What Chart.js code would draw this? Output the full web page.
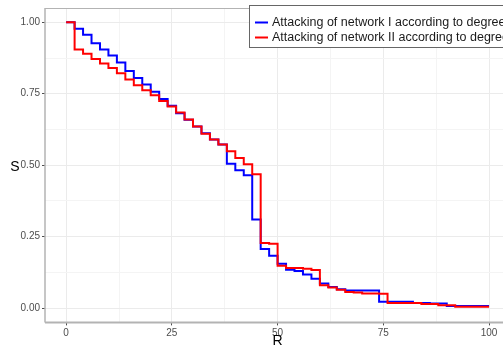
<!DOCTYPE html>
<html>
<head>
<meta charset="utf-8">
<script src="https://cdn.jsdelivr.net/npm/chart.js@4.4.0/dist/chart.umd.min.js"></script>
<style>
  html, body { margin: 0; padding: 0; background: #fff; }
  canvas { display: block; }
</style>
</head>
<body>
<canvas id="grafico" width="503" height="351"></canvas>
<script>
// R = percentage of removed nodes (steps every 2)
const valoresR = [0, 2, 4, 6, 8, 10, 12, 14, 16, 18, 20, 22, 24, 26, 28, 30, 32, 34, 36, 38, 40,
                  42, 44, 46, 48, 50, 52, 54, 56, 58, 60, 62, 64, 66, 68, 70, 72, 74, 76, 78, 80,
                  82, 84, 86, 88, 90, 92, 94, 96, 98, 100];

// S for network I (blue)
const redeI = [1.000, 0.977, 0.956, 0.927, 0.905, 0.884, 0.859, 0.830, 0.805, 0.782, 0.757,
               0.732, 0.708, 0.682, 0.659, 0.635, 0.612, 0.590, 0.572, 0.505, 0.482,
               0.465, 0.310, 0.207, 0.183, 0.155, 0.134, 0.130, 0.118, 0.103, 0.086,
               0.074, 0.066, 0.062, 0.062, 0.062, 0.062, 0.022, 0.022, 0.022, 0.022,
               0.018, 0.018, 0.016, 0.016, 0.007, 0.007, 0.007, 0.007, 0.007, 0.007];

// S for network II (red)
const redeII = [1.000, 0.905, 0.890, 0.872, 0.856, 0.840, 0.822, 0.800, 0.780, 0.762, 0.745,
                0.725, 0.705, 0.684, 0.660, 0.635, 0.610, 0.590, 0.572, 0.549, 0.525,
                0.503, 0.468, 0.228, 0.225, 0.148, 0.140, 0.140, 0.138, 0.133, 0.080,
                0.072, 0.064, 0.056, 0.055, 0.051, 0.051, 0.050, 0.018, 0.018, 0.018,
                0.018, 0.014, 0.014, 0.010, 0.010, 0.005, 0.005, 0.005, 0.005, 0.005];

const nomes = ['Attacking of network I according to degree',
               'Attacking of network II according to degree'];

// grid breaks (major + minor) and labelled ticks
const quebrasX = [0, 12.5, 25, 37.5, 50, 62.5, 75, 87.5, 100];
const quebrasY = [0, 0.125, 0.25, 0.375, 0.5, 0.625, 0.75, 0.875, 1];
const rotulosX = [0, 25, 50, 75, 100];
const rotulosY = [0, 0.25, 0.5, 0.75, 1];

const fonte = "'Liberation Sans', Arial, sans-serif";

function pontos(ys) {
    return valoresR.map((r, i) => ({ x: r, y: ys[i] }));
}

function ehMaior(valor, lista) {
    return lista.some(v => Math.abs(v - valor) < 1e-9);
}

// Draws the panel border, axis titles and the legend box
const enfeites = {
    id: 'enfeites',
    afterDatasetsDraw(chart) {
        const ctx = chart.ctx;
        const a = chart.chartArea;
        ctx.save();
        // top + left border
        ctx.strokeStyle = '#b3b3b3';
        ctx.lineWidth = 1;
        ctx.beginPath();
        ctx.moveTo(a.left, a.top + 0.5);
        ctx.lineTo(a.right + 10, a.top + 0.5);
        ctx.stroke();
        ctx.lineWidth = 1.5;
        ctx.beginPath();
        ctx.moveTo(a.left, a.top);
        ctx.lineTo(a.left, a.bottom);
        ctx.stroke();
        // bottom axis line
        ctx.lineWidth = 2;
        ctx.beginPath();
        ctx.moveTo(a.left, a.bottom);
        ctx.lineTo(a.right + 10, a.bottom);
        ctx.stroke();

        // axis titles
        ctx.fillStyle = '#000';
        ctx.font = '14px ' + fonte;
        ctx.textAlign = 'center';
        ctx.textBaseline = 'middle';
        ctx.fillText('R', chart.scales.x.getPixelForValue(50), 341);
        ctx.fillText('S', 15, chart.scales.y.getPixelForValue(0.5) + 2);

        // legend
        ctx.fillStyle = '#fff';
        ctx.fillRect(249.5, 5.5, 300, 42);
        ctx.strokeStyle = '#666';
        ctx.lineWidth = 1;
        ctx.strokeRect(249.5, 5.5, 300, 42);
        ctx.font = '12.5px ' + fonte;
        ctx.textAlign = 'left';
        chart.data.datasets.forEach((ds, i) => {
            const y = 22.5 + i * 15;
            ctx.strokeStyle = ds.borderColor;
            ctx.lineWidth = 2;
            ctx.beginPath();
            ctx.moveTo(255, y);
            ctx.lineTo(268, y);
            ctx.stroke();
            ctx.fillStyle = '#1a1a1a';
            ctx.fillText(ds.label, 272, y + 0.5);
        });
        ctx.restore();
    }
};

new Chart(document.getElementById('grafico'), {
    type: 'line',
    data: {
        datasets: [{
            label: nomes[0],
            data: pontos(redeI),
            borderColor: '#0000ff',
            borderWidth: 2,
            pointRadius: 0,
            stepped: 'before',
            order: 1
        }, {
            label: nomes[1],
            data: pontos(redeII),
            borderColor: '#ff0000',
            borderWidth: 2,
            pointRadius: 0,
            stepped: 'before',
            order: 0
        }]
    },
    options: {
        responsive: false,
        animation: false,
        events: [],
        layout: { padding: { top: 5.6, right: 0, bottom: 0, left: 0 } },
        plugins: { legend: { display: false }, tooltip: { enabled: false } },
        scales: {
            x: {
                type: 'linear',
                min: -5,
                max: 103.3,
                afterFit: s => { s.height = 28.6; },
                afterBuildTicks: s => { s.ticks = quebrasX.map(v => ({ value: v })); },
                border: { display: false },
                grid: {
                    color: c => ehMaior(c.tick.value, rotulosX) ? '#ebebeb' : '#f4f4f4',
                    tickColor: c => ehMaior(c.tick.value, rotulosX) ? '#4d4d4d' : 'rgba(0,0,0,0)',
                    tickLength: 3,
                    lineWidth: 1
                },
                ticks: {
                    padding: 2,
                    maxRotation: 0,
                    autoSkip: false,
                    color: '#4d4d4d',
                    font: { family: fonte, size: 10 },
                    callback: v => ehMaior(v, rotulosX) ? String(v) : ''
                }
            },
            y: {
                min: -0.05,
                max: 1.05,
                afterFit: s => { s.width = 45; },
                afterBuildTicks: s => { s.ticks = quebrasY.map(v => ({ value: v })); },
                border: { display: false },
                grid: {
                    color: c => ehMaior(c.tick.value, rotulosY) ? '#ebebeb' : '#f4f4f4',
                    tickColor: c => ehMaior(c.tick.value, rotulosY) ? '#4d4d4d' : 'rgba(0,0,0,0)',
                    tickLength: 3,
                    lineWidth: 1
                },
                ticks: {
                    padding: 2,
                    autoSkip: false,
                    color: '#4d4d4d',
                    font: { family: fonte, size: 10 },
                    callback: v => ehMaior(v, rotulosY) ? v.toFixed(2) : ''
                }
            }
        }
    },
    plugins: [enfeites]
});
</script>
</body>
</html>
